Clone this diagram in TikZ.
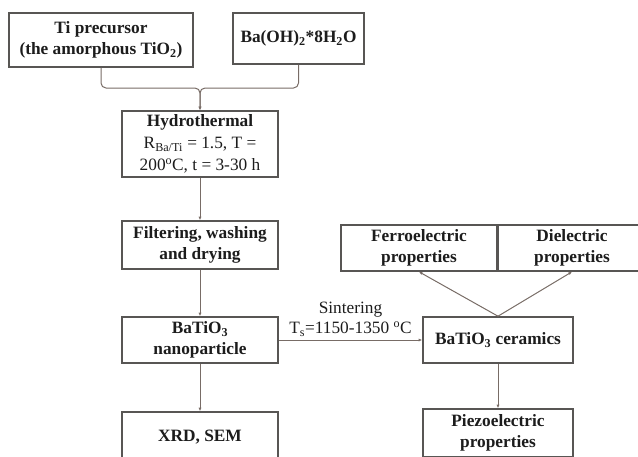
\documentclass[tikz,border=0pt]{standalone}
\usepackage{fontspec}
\setmainfont{Liberation Serif}
\usetikzlibrary{arrows.meta}
\definecolor{boxgray}{RGB}{88,86,84}
\definecolor{linegray}{RGB}{120,108,102}
\definecolor{inkgray}{RGB}{28,28,28}

\begin{document}
\begin{tikzpicture}[x=1pt,y=-1pt,
	box/.style={draw=boxgray, line width=1.6pt, fill=white, inner sep=0pt, align=center, text=inkgray,
		font=\bfseries\fontsize{17.3}{21}\selectfont},
	conn/.style={draw=linegray, line width=1pt},
	tip/.style={-{Latex[length=3.5pt,width=3pt]}}]
\useasboundingbox (0,0) rectangle (638,456);

\node[box, minimum width=184pt, minimum height=54pt] (prec) at (101,40) {Ti precursor\\(the amorphous TiO\textsubscript{2})};
\node[box, minimum width=131pt, minimum height=51pt] (baoh) at (298.5,38.5) {Ba(OH)\textsubscript{2}*8H\textsubscript{2}O};
\node[box, minimum width=156pt, minimum height=66pt, font=\mdseries\fontsize{17.3}{22}\selectfont] (hydro) at (200,144)
	{\textbf{Hydrothermal}\\R\textsubscript{Ba/Ti} = 1.5, T =\\200\textsuperscript{o}C, t = 3-30 h};
\node[box, minimum width=156pt, minimum height=48pt] (filt) at (200,245) {Filtering, washing\\and drying};
\node[box, minimum width=156pt, minimum height=46pt] (nano) at (200,340) {BaTiO\textsubscript{3}\\nanoparticle};
\node[box, minimum width=156pt, minimum height=50pt] (xrd) at (200,437) {XRD, SEM};

\node[box, minimum width=156pt, minimum height=46pt] (ferro) at (419,248) {Ferroelectric\\properties};
\node[box, minimum width=148pt, minimum height=46pt] (diel) at (572,248) {Dielectric\\properties};
\node[box, minimum width=150pt, minimum height=46pt] (cer) at (498,340) {BaTiO\textsubscript{3} ceramics};
\node[box, minimum width=150pt, minimum height=48pt] (piezo) at (498,433) {Piezoelectric\\properties};

% brace joining the two starting materials
\coordinate (brace) at (200,88);
\draw[conn, tip, rounded corners=5pt] (prec.south) |- (brace) -- (hydro.north);
\draw[conn, tip, rounded corners=5pt] (baoh.south) |- (brace) -- (hydro.north);

\draw[conn, tip] (hydro) -- (filt);
\draw[conn, tip] (filt) -- (nano);
\draw[conn, tip] (nano) -- (xrd);
\draw[conn, tip] (nano) -- node[above, inner sep=3pt, align=center, text=inkgray, font=\fontsize{17.3}{20}\selectfont]
	{Sintering\\T\textsubscript{s}=1150-1350 \textsuperscript{o}C} (cer);

\draw[conn, tip] (cer.north) -- (ferro.south);
\draw[conn, tip] (cer.north) -- (diel.south);
\draw[conn, tip] (cer) -- (piezo);

\end{tikzpicture}
\end{document}
